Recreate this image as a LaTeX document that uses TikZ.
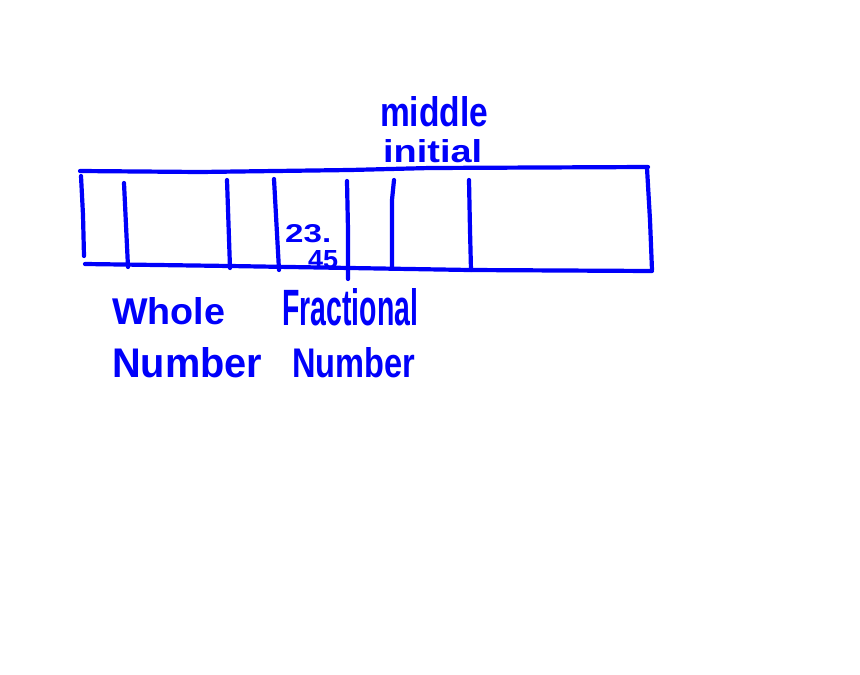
\documentclass[tikz,border=0pt]{standalone}
\usepackage{fontspec}
\usepackage{graphicx}
\setmainfont{Liberation Sans}
\definecolor{ink}{RGB}{0,0,250}
\tikzset{
  pen/.style={draw=ink, line width=4.2pt, line cap=round, line join=round},
  hand/.style={text=ink, inner sep=0pt, anchor=south west, font=\bfseries}
}
\begin{document}
\begin{tikzpicture}[x=1pt,y=-1pt]
\useasboundingbox (0,0) rectangle (860,675);
\fill[white] (0,0) rectangle (860,675);
% outer box
\draw[pen] (80,171) -- (200,172) -- (350,170) -- (430,168) -- (648,167);
\draw[pen] (81,176) -- (83,215) -- (84,256);
\draw[pen] (85,264) -- (230,266) -- (350,268) -- (470,270) -- (652,271);
\draw[pen] (647,168) -- (650,220) -- (652,270);
% dividers
\draw[pen] (124,183) -- (128,267);
\draw[pen] (227,180) -- (230,268);
\draw[pen] (274,179) -- (279,270);
\draw[pen] (347,181) -- (348,230) -- (348,279);
\draw[pen] (394,180) -- (392,200) -- (392,268);
\draw[pen] (469,180) -- (470,230) -- (471,270);
% labels
\node[hand] (mid) at (380,127) {\resizebox{108pt}{30pt}{middle}};
\node[hand] (ini) at (383,163) {\resizebox{99pt}{23pt}{initial}};
\node[hand] (v1) at (285,243) {\resizebox{46pt}{18pt}{23.}};
\node[hand] (v2) at (308,269) {\resizebox{30pt}{18pt}{45}};
\node[hand] (who) at (112,325) {\resizebox{113pt}{27pt}{Whole}};
\node[hand] (fra) at (282,326) {\resizebox{136pt}{37pt}{Fractional}};
\node[hand] (nu1) at (112,378) {\resizebox{150pt}{30pt}{Number}};
\node[hand] (nu2) at (292,378) {\resizebox{123pt}{30pt}{Number}};
\end{tikzpicture}
\end{document}
